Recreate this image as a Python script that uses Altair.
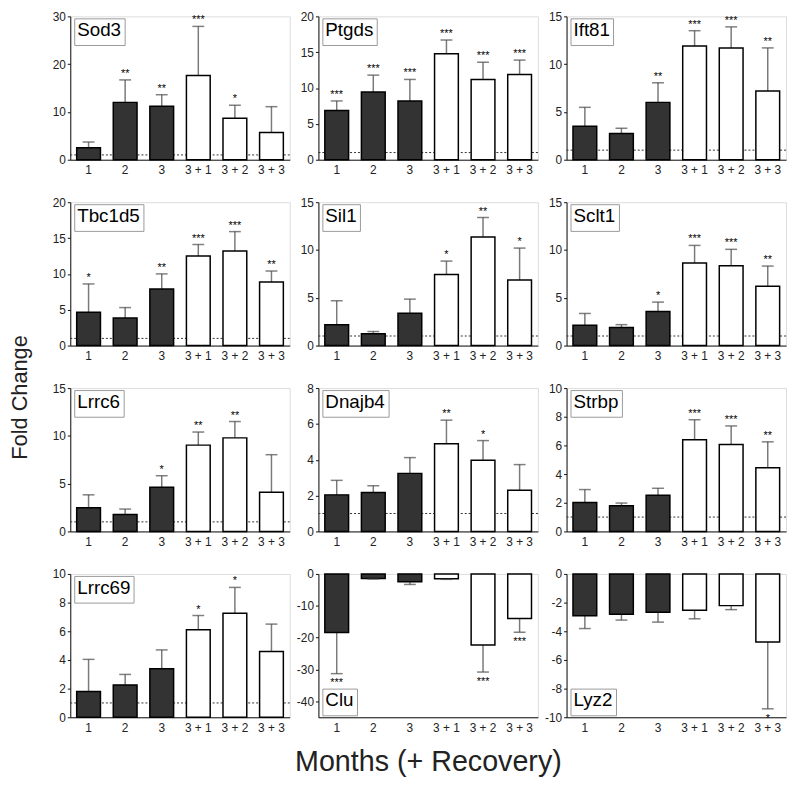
import altair as alt
import pandas as pd

FONT = "Liberation Sans"

genes = ["Sod3", "Ptgds", "Ift81", "Tbc1d5", "Sil1", "Sclt1",
         "Lrrc6", "Dnajb4", "Strbp", "Lrrc69", "Clu", "Lyz2"]
timepoints = ["1", "2", "3", "3 + 1", "3 + 2", "3 + 3"]
bar_fills = ["#333333", "#333333", "#333333", "#ffffff", "#ffffff", "#ffffff"]

mean_values = [
    [2.5, 12.0, 11.2, 17.6, 8.7, 5.7],
    [6.85, 9.45, 8.2, 14.8, 11.2, 11.9],
    [3.5, 2.74, 6.0, 11.9, 11.7, 7.2],
    [4.66, 3.84, 7.9, 12.5, 13.2, 8.86],
    [2.19, 1.23, 3.39, 7.43, 11.37, 6.85],
    [2.12, 1.88, 3.56, 8.63, 8.36, 6.2],
    [2.48, 1.76, 4.62, 9.03, 9.79, 4.1],
    [2.04, 2.17, 3.24, 4.89, 3.97, 2.3],
    [2.02, 1.79, 2.53, 6.39, 6.07, 4.44],
    [1.8, 2.26, 3.38, 6.1, 7.26, 4.59],
    [-18.4, -1.43, -2.45, -1.53, -22.3, -14.0],
    [-2.92, -2.81, -2.67, -2.53, -2.21, -4.75],
]
error_tips = [
    [3.7, 16.7, 13.6, 27.9, 11.4, 11.1],
    [8.2, 11.8, 11.2, 16.7, 13.6, 13.9],
    [5.48, 3.29, 8.05, 13.5, 13.9, 11.7],
    [8.6, 5.3, 10.0, 14.1, 15.9, 10.4],
    [4.69, 1.47, 4.86, 8.84, 13.4, 10.2],
    [3.36, 2.19, 4.55, 10.48, 10.07, 8.32],
    [3.83, 2.34, 5.83, 10.4, 11.5, 8.03],
    [2.85, 2.55, 4.12, 6.21, 5.07, 3.73],
    [2.92, 1.98, 3.01, 7.79, 7.36, 6.25],
    [4.04, 2.99, 4.7, 7.1, 9.06, 6.5],
    [-31.3, -1.6, -3.3, -1.7, -30.8, -18.3],
    [-3.81, -3.22, -3.36, -3.13, -2.49, -9.41],
]
significance = [
    ["", "**", "**", "***", "*", ""],
    ["***", "***", "***", "***", "***", "***"],
    ["", "", "**", "***", "***", "**"],
    ["*", "", "**", "***", "***", "**"],
    ["", "", "", "*", "**", "*"],
    ["", "", "*", "***", "***", "**"],
    ["", "", "*", "**", "**", ""],
    ["", "", "", "**", "*", ""],
    ["", "", "", "***", "***", "**"],
    ["", "", "", "*", "*", ""],
    ["***", "", "", "", "***", "***"],
    ["", "", "", "", "", "*"],
]
y_domains = [[0, 30], [0, 20], [0, 15], [0, 20], [0, 15], [0, 15],
             [0, 15], [0, 8], [0, 10], [0, 10], [-45, 0], [-10, 0]]
y_ticks = [
    [0, 10, 20, 30], [0, 5, 10, 15, 20], [0, 5, 10, 15], [0, 5, 10, 15, 20],
    [0, 5, 10, 15], [0, 5, 10, 15], [0, 5, 10, 15], [0, 2, 4, 6, 8],
    [0, 2, 4, 6, 8, 10], [0, 2, 4, 6, 8, 10], [0, -10, -20, -30, -40],
    [0, -2, -4, -6, -8, -10],
]
reference_level = [1]

W, H = 222, 145


def panel(i):
    gene = genes[i]
    df = pd.DataFrame({
        "t": timepoints,
        "mean": mean_values[i],
        "tip": error_tips[i],
        "sig": significance[i],
        "fill": bar_fills,
        "gene": [gene] * len(timepoints),
    })
    negative = y_domains[i][1] <= 0
    axis_title = "Fold Change" if i == 3 else None
    yaxis_kw = dict(values=y_ticks[i], grid=False, labelFont=FONT, labelFontSize=12,
                    labelColor="#222", tickSize=3, tickColor="#111", labelPadding=2,
                    domainColor="#111", domainWidth=1, labelExpr="datum.value + ''",
                    title=axis_title)
    if axis_title:
        yaxis_kw.update(titleX=-51, titleY=197, titleFont=FONT, titleFontSize=22,
                        titleFontWeight="normal", titleColor="#222", titleAlign="center",
                        titleBaseline="middle", titleAngle=270)
    yaxis = alt.Axis(**yaxis_kw)
    yscale = alt.Scale(domain=y_domains[i], nice=False, zero=False)
    x = alt.X("t:N", sort=timepoints,
              scale=alt.Scale(paddingInner=0.35, paddingOuter=0.175),
              axis=alt.Axis(title=None, labelAngle=0, ticks=False, labelPadding=5,
                            labelFont=FONT, labelFontSize=12, labelColor="#222",
                            domainColor="#111", domainWidth=1, grid=False))
    base = alt.Chart(df)
    layers = []
    if not negative:
        layers.append(
            alt.Chart(pd.DataFrame({"ref": reference_level}))
            .mark_rule(color="#333", strokeWidth=1, strokeDash=[2, 2])
            .encode(y=alt.Y("ref:Q", scale=yscale, axis=yaxis))
        )
    layers.append(
        base.mark_rule(color="#7a7a7a", strokeWidth=1.5).encode(
            x=x, y=alt.Y("mean:Q", scale=yscale, axis=yaxis), y2="tip:Q")
    )
    layers.append(
        base.mark_bar(stroke="black", strokeWidth=1.5).encode(
            x=x, y=alt.Y("mean:Q", scale=yscale, axis=yaxis),
            fill=alt.Fill("fill:N", scale=None))
    )
    layers.append(
        base.mark_tick(color="#4a4a4a", thickness=1.5, size=12).encode(
            x=x, y=alt.Y("tip:Q", scale=yscale, axis=yaxis))
    )
    layers.append(
        base.mark_text(font=FONT, fontSize=11, color="black",
                       baseline="top" if negative else "bottom",
                       dy=4 if negative else -1).encode(
            x=x, y=alt.Y("tip:Q", scale=yscale, axis=yaxis), text="sig:N")
    )
    legend_y = H - 2 - 27 if negative else 2
    layers.append(
        base.mark_point(opacity=0, size=1).encode(
            x=x, y=alt.Y("mean:Q", scale=yscale, axis=yaxis),
            shape=alt.Shape("gene:N", legend=alt.Legend(
                orient="none", legendX=4, legendY=legend_y, title=gene,
                titleFont=FONT, titleFontSize=19, titleFontWeight="normal",
                titleColor="black", titlePadding=0,
                labelFontSize=1, labelOpacity=0, labelExpr="''",
                strokeColor="#9a9a9a", fillColor="white", padding=3,
                symbolSize=1, symbolOpacity=0, symbolStrokeWidth=0.01,
                labelOffset=0, cornerRadius=0)))
    )
    return alt.layer(*layers).properties(width=W, height=H)


chart = (
    alt.concat(*[panel(i) for i in range(len(genes))], columns=3,
               spacing={"row": 43, "column": 29}, bounds="flush")
    .resolve_scale(shape="independent")
    .properties(
        title=alt.TitleParams("Months (+ Recovery)", orient="bottom", anchor="middle",
                              font=FONT, fontSize=29, fontWeight="normal", color="#222",
                              offset=15, dx=31),
        padding={"left": 0, "top": -3, "right": 2, "bottom": 0},
    )
    .configure_view(stroke="#9a9a9a", strokeWidth=1)
    .configure(background="white")
)

chart.save("out.html", embed_options={"renderer": "svg", "actions": False})
